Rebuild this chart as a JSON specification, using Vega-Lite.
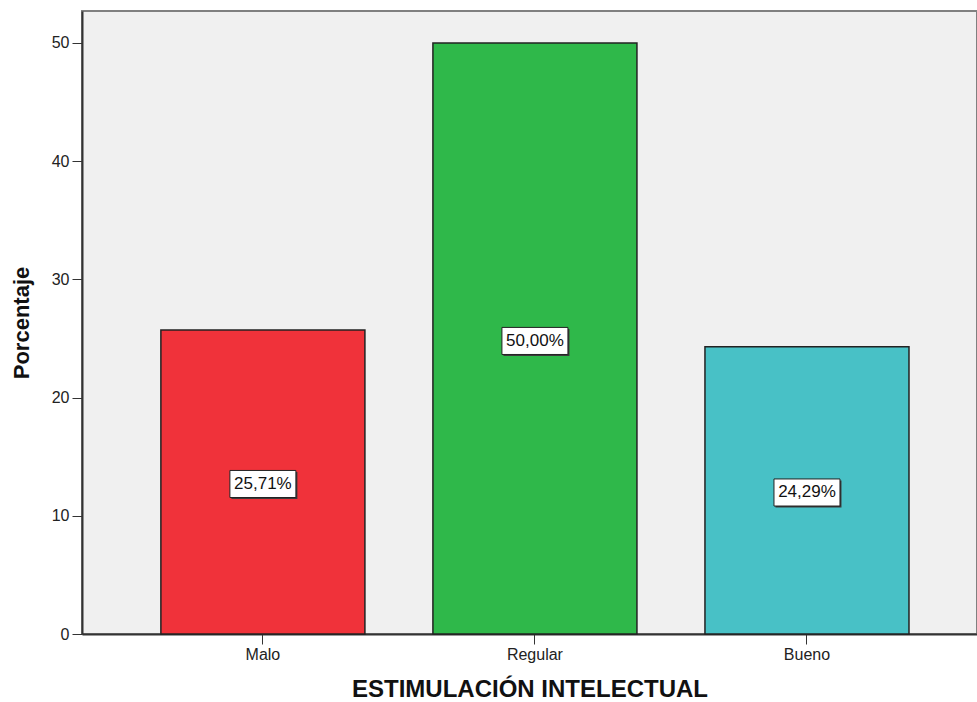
{
  "$schema": "https://vega.github.io/schema/vega-lite/v6.json",
  "autosize": {"type": "none"},
  "padding": {"left": 82, "top": 11, "right": 0, "bottom": 68},
  "width": 895,
  "height": 623,
  "background": "white",
  "config": {
    "view": {"fill": "#f0f0f0", "stroke": "#808080", "strokeWidth": 2},
    "axis": {"grid": false, "domainColor": "#333333", "tickColor": "#333333", "labelColor": "#222222", "titleColor": "#111111"}
  },
  "data": {
    "values": [
      {"categoria": "Malo", "porcentaje": 25.71, "etiqueta": "25,71%", "medio": 12.69},
      {"categoria": "Regular", "porcentaje": 50.0, "etiqueta": "50,00%", "medio": 24.79},
      {"categoria": "Bueno", "porcentaje": 24.29, "etiqueta": "24,29%", "medio": 11.97}
    ]
  },
  "encoding": {
    "x": {
      "field": "categoria",
      "type": "nominal",
      "sort": ["Malo", "Regular", "Bueno"],
      "scale": {"paddingInner": 0.25, "paddingOuter": 0.27, "align": 0.537},
      "axis": {
        "title": "ESTIMULACIÓN INTELECTUAL",
        "titleFont": "Liberation Sans",
        "titleFontSize": 24,
        "titleFontWeight": "bold",
        "titlePadding": 15,
        "labelFont": "Liberation Sans",
        "labelFontSize": 16,
        "labelAngle": 0,
        "labelPadding": 2,
        "tickSize": 10,
        "domainWidth": 2
      }
    }
  },
  "layer": [
    {
      "mark": {"type": "bar", "stroke": "#222222", "strokeWidth": 1.5},
      "encoding": {
        "y": {
          "field": "porcentaje",
          "type": "quantitative",
          "scale": {"domain": [0, 52.7], "nice": false},
          "axis": {
            "title": "Porcentaje",
            "titleFont": "Liberation Sans",
            "titleFontSize": 22,
            "titleFontWeight": "bold",
            "titlePadding": 18,
            "values": [0, 10, 20, 30, 40, 50],
            "labelFont": "Liberation Sans",
            "labelFontSize": 16,
            "labelPadding": 3,
            "tickSize": 10,
            "domainWidth": 2
          }
        },
        "color": {
          "field": "categoria",
          "type": "nominal",
          "scale": {"domain": ["Malo", "Regular", "Bueno"], "range": ["#f0323a", "#2fb84a", "#48c1c6"]},
          "legend": null
        }
      }
    },
    {
      "mark": {
        "type": "point",
        "shape": "M-1,-0.41L1,-0.41L1,0.41L-1,0.41Z",
        "size": 4356,
        "filled": true,
        "fill": "#3a3a3a",
        "strokeWidth": 0,
        "opacity": 1,
        "xOffset": 1.5,
        "yOffset": 1.5
      },
      "encoding": {
        "y": {"field": "medio", "type": "quantitative"}
      }
    },
    {
      "mark": {
        "type": "point",
        "shape": "M-1,-0.41L1,-0.41L1,0.41L-1,0.41Z",
        "size": 4356,
        "filled": true,
        "fill": "white",
        "stroke": "#222222",
        "strokeWidth": 1,
        "opacity": 1
      },
      "encoding": {
        "y": {"field": "medio", "type": "quantitative"}
      }
    },
    {
      "mark": {"type": "text", "font": "Liberation Sans", "fontSize": 17, "color": "#111111", "baseline": "middle"},
      "encoding": {
        "y": {"field": "medio", "type": "quantitative"},
        "text": {"field": "etiqueta"}
      }
    }
  ]
}
